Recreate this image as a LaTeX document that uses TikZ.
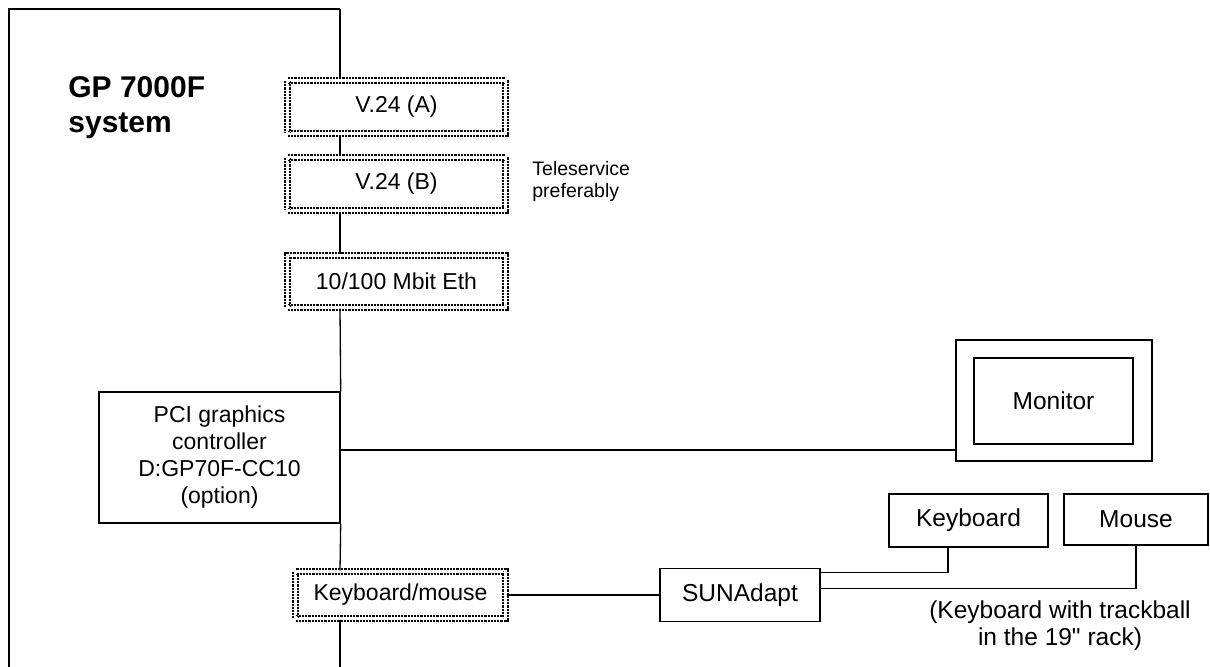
\documentclass[tikz,border=0pt]{standalone}
\usepackage{fontspec}
\setmainfont{Liberation Sans}
\newfontfamily\plainquote{Liberation Sans}[Ligatures=TeXOff]
\begin{document}
\begin{tikzpicture}[x=0.5pt, y=-0.5pt,
    port/.style={draw, line width=1.1pt, double, double distance=1.4pt, dash pattern=on 1.1pt off 0.5pt,
        minimum width=109pt, minimum height=26.5pt, inner sep=0pt, font=\fontsize{11.5}{13.5}\selectfont},
    unit/.style={draw, line width=0.7pt, inner sep=0pt, font=\fontsize{12.25}{13.5}\selectfont},
    wire/.style={line width=0.65pt}]
    \useasboundingbox (0,0) rectangle (1210,667);

    % system frame
    \coordinate (sysBL) at (9,667);
    \coordinate (sysTL) at (9,9);
    \coordinate (sysTR) at (340,9);
    \coordinate (sysBR) at (340,667);
    \draw[wire] (sysBL) -- (sysTL) -- (sysTR);
    \node[anchor=north west, inner sep=0pt, align=left, font=\fontsize{15}{17.5}\selectfont\bfseries] (title) at (68,76) {GP 7000F\\system};

    % ports on the bus
    \node[port] (v24a) at (396.5,107) {V.24 (A)};
    \node[port] (v24b) at (396.5,184) {V.24 (B)};
    \node[port, minimum height=26pt] (eth) at (396.5,281.5) {10/100 Mbit Eth};
    \node[port, minimum width=105pt, minimum height=23.5pt] (km) at (400.5,595) {Keyboard/mouse};
    \node[anchor=north west, inner sep=0pt, align=left, font=\fontsize{9.75}{11}\selectfont] (tele) at (532,161) {Teleservice\\preferably};
    \node[draw, line width=0.7pt, minimum width=120.5pt, minimum height=65.5pt, inner sep=0pt, align=center,
        font=\fontsize{11.5}{13.5}\selectfont] (pci) at (219.5,457.5) {PCI graphics\\controller\\D:GP70F-CC10\\(option)};

    \draw[wire] (sysTR) -- (sysTR |- v24a.north);
    \draw[wire] (v24a.south -| sysTR) -- (v24b.north -| sysTR);
    \draw[wire] (v24b.south -| sysTR) -- (eth.north -| sysTR);
    \draw[wire] (eth.south -| sysTR) -- (pci.north east);
    \draw[wire] (pci.south east) -- (km.north -| sysTR);
    \draw[wire] (km.south -| sysTR) -- (sysBR);

    % monitor
    \node[draw, line width=0.9pt, minimum width=98pt, minimum height=60.5pt] (mon) at (1054,400.5) {};
    \node[unit, minimum width=79.5pt, minimum height=43pt] (screen) at (1053.5,401) {Monitor};
    \draw[wire] ([yshift=3.75pt]pci.east) coordinate (gfx) -- (gfx -| mon.west);

    % keyboard and mouse
    \node[unit, minimum width=79.5pt, minimum height=26.5pt] (kbd) at (968.5,520.5) {Keyboard};
    \node[unit, minimum width=72pt, minimum height=25.5pt] (mouse) at (1136,519.5) {Mouse};
    \node[unit, minimum width=80pt, minimum height=26.5pt] (sun) at (740,595) {SUNAdapt};
    \draw[wire] (km.east) -- (sun.west);
    \draw[wire] ([yshift=-2.5pt]sun.north east) -| ([xshift=-10.25pt]kbd.south);
    \draw[wire] ([yshift=3.25pt]sun.east) -| (mouse.south);
    \node[anchor=north, inner sep=0pt, align=center, font=\fontsize{12.25}{13.5}\selectfont] (note) at (1060,600) {(Keyboard with trackball\\in the 19{\plainquote"} rack)};
\end{tikzpicture}
\end{document}
